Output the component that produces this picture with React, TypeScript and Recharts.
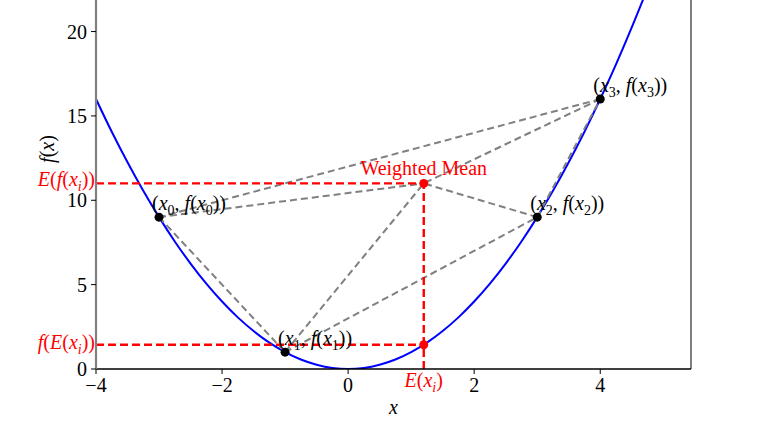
import React from 'react';
import { ComposedChart, Line, Scatter, XAxis, YAxis, ReferenceLine } from 'recharts';

// f(x) = x^2 sampled values
const curveX = [-4, -3.75, -3.5, -3.25, -3, -2.75, -2.5, -2.25, -2, -1.75, -1.5, -1.25, -1, -0.75, -0.5, -0.25, 0,
  0.25, 0.5, 0.75, 1, 1.25, 1.5, 1.75, 2, 2.25, 2.5, 2.75, 3, 3.25, 3.5, 3.75, 4, 4.25, 4.5, 4.75, 5];
const curveY = [16, 14.06, 12.25, 10.56, 9, 7.56, 6.25, 5.06, 4, 3.06, 2.25, 1.56, 1, 0.56, 0.25, 0.06, 0,
  0.06, 0.25, 0.56, 1, 1.56, 2.25, 3.06, 4, 5.06, 6.25, 7.56, 9, 10.56, 12.25, 14.06, 16, 18.06, 20.25, 22.56, 25];

const pointX = [-3, -1, 3, 4];
const pointY = [9, 1, 9, 16];
const meanX = 1.2;
const meanY = 11;
const fOfMean = 1.44;

const xTicks = [-4, -2, 0, 2, 4];
const yTicks = [0, 5, 10, 15, 20];
const xDomain = [-4, 5.44];
const yDomain = [0, 21.87];

const serif = "'Liberation Serif', 'DejaVu Serif', 'Times New Roman', serif";
const FS = 20;
const RED = '#ff0000';

const curveData = curveX.map((x, i) => ({ x, y: curveY[i] }));
const pointData = pointX.map((x, i) => ({ x, y: pointY[i], idx: i }));

// hull edges + weighted mean to each point
const edges = [[0, 1], [1, 2], [2, 3], [3, 0]];
const segments = [
  ...edges.map(([a, b]) => [{ x: pointX[a], y: pointY[a] }, { x: pointX[b], y: pointY[b] }]),
  ...pointX.map((x, i) => [{ x, y: pointY[i] }, { x: meanX, y: meanY }]),
];

const redLines = [
  [{ x: xDomain[0], y: meanY }, { x: meanX, y: meanY }],
  [{ x: xDomain[0], y: fOfMean }, { x: meanX, y: fOfMean }],
  [{ x: meanX, y: 0 }, { x: meanX, y: meanY }],
];
const meanPoints = [{ x: meanX, y: meanY, kind: 'mean' }, { x: meanX, y: fOfMean, kind: 'jensen' }];

const PointShape = (props: any) => {
  const { cx, cy, payload } = props;
  const i = String(payload.idx);
  return (
    <g>
      <circle cx={cx} cy={cy} r={4.5} fill="#000" />
      <text x={cx - 7} y={cy - 7} fontFamily={serif} fontSize={FS} fill="#000" style={{ whiteSpace: 'pre' }}>
        <tspan>(</tspan>
        <tspan fontStyle="italic">x</tspan>
        <tspan dy={5} fontSize={14}>{i}</tspan>
        <tspan dy={-5}>, </tspan>
        <tspan fontStyle="italic">f</tspan>
        <tspan>(</tspan>
        <tspan fontStyle="italic">x</tspan>
        <tspan dy={5} fontSize={14}>{i}</tspan>
        <tspan dy={-5}>))</tspan>
      </text>
    </g>
  );
};

const MeanShape = (props: any) => {
  const { cx, cy, payload } = props;
  return (
    <g>
      <circle cx={cx} cy={cy} r={4.5} fill={RED} />
      {payload.kind === 'mean' && (
        <text x={cx} y={cy - 8} textAnchor="middle" fontFamily={serif} fontSize={FS} fill={RED}>
          Weighted Mean
        </text>
      )}
    </g>
  );
};

const fmtX = (v: number) => (v < 0 ? '\u2212' + Math.abs(v) : String(v));

const YTick = (props: any) => {
  const { x, y, payload } = props;
  const v = payload.value;
  const common = { fontFamily: serif, fontSize: FS, fill: RED };
  if (v === meanY) {
    return (
      <text x={x + 8} y={y + 3} textAnchor="end" {...common}>
        <tspan fontStyle="italic">E</tspan>
        <tspan>(</tspan>
        <tspan fontStyle="italic">f</tspan>
        <tspan>(</tspan>
        <tspan fontStyle="italic">x</tspan>
        <tspan dy={5} fontSize={14} fontStyle="italic">i</tspan>
        <tspan dy={-5}>))</tspan>
      </text>
    );
  }
  if (v === fOfMean) {
    return (
      <text x={x + 8} y={y + 4} textAnchor="end" {...common}>
        <tspan fontStyle="italic">f</tspan>
        <tspan>(</tspan>
        <tspan fontStyle="italic">E</tspan>
        <tspan>(</tspan>
        <tspan fontStyle="italic">x</tspan>
        <tspan dy={5} fontSize={14} fontStyle="italic">i</tspan>
        <tspan dy={-5}>))</tspan>
      </text>
    );
  }
  return (
    <g>
      <line x1={x + 4} x2={x + 9} y1={y} y2={y} stroke="#000" strokeWidth={1} />
      <text x={x} y={y} dy="0.355em" textAnchor="end" fontFamily={serif} fontSize={FS} fill="#000">
        {v}
      </text>
    </g>
  );
};

const XTick = (props: any) => {
  const { x, y, payload } = props;
  const v = payload.value;
  if (v === meanX) {
    return (
      <text x={x} y={y + 9} textAnchor="middle" fontFamily={serif} fontSize={FS} fill={RED}>
        <tspan fontStyle="italic">E</tspan>
        <tspan>(</tspan>
        <tspan fontStyle="italic">x</tspan>
        <tspan dy={5} fontSize={14} fontStyle="italic">i</tspan>
        <tspan dy={-5}>)</tspan>
      </text>
    );
  }
  return (
    <g>
      <line x1={x} x2={x} y1={y - 9} y2={y - 4} stroke="#000" strokeWidth={1} />
      <text x={x} y={y} dy="0.71em" textAnchor="middle" fontFamily={serif} fontSize={FS} fill="#000">
        {fmtX(v)}
      </text>
    </g>
  );
};

const XLabel = (props: any) => {
  const vb = props.viewBox || { x: 96, y: 369, width: 595 };
  return (
    <text x={vb.x + vb.width / 2} y={vb.y + 45} textAnchor="middle" fontFamily={serif} fontSize={FS} fontStyle="italic" fill="#000">
      x
    </text>
  );
};

const YLabel = () => (
  <text x={54} y={149} transform="rotate(-90 54 149)" textAnchor="middle" fontFamily={serif} fontSize={FS} fill="#000">
    <tspan fontStyle="italic">f</tspan>
    <tspan>(</tspan>
    <tspan fontStyle="italic">x</tspan>
    <tspan>)</tspan>
  </text>
);

export default function App() {
  return (
    <div style={{ position: 'fixed', left: 0, top: 0, width: 768, height: 432, background: '#fff' }}>
      <ComposedChart width={768} height={432} margin={{ top: 0, right: 77, bottom: 0, left: 0 }}>
        <XAxis
          type="number"
          dataKey="x"
          domain={xDomain}
          ticks={[...xTicks, meanX]}
          allowDataOverflow
          interval={0}
          height={63}
          tick={<XTick />}
          tickSize={5}
          tickMargin={4}
          axisLine={{ stroke: '#000', strokeWidth: 1.3 }}
          tickLine={false}
          label={<XLabel />}
        />
        <YAxis
          type="number"
          dataKey="y"
          domain={yDomain}
          ticks={[...yTicks, meanY, fOfMean]}
          allowDataOverflow
          interval={0}
          width={96}
          tick={<YTick />}
          tickSize={5}
          tickMargin={4}
          axisLine={{ stroke: '#808080', strokeWidth: 2.2 }}
          tickLine={false}
          label={<YLabel />}
        />
        <ReferenceLine x={xDomain[1]} stroke="#555" strokeWidth={1.5} ifOverflow="extendDomain" />
        <Line
          data={curveData}
          dataKey="y"
          type="monotone"
          stroke="#0000ff"
          strokeWidth={2}
          dot={false}
          isAnimationActive={false}
        />
        {segments.map((seg, i) => (
          <Line
            key={'g' + i}
            data={seg}
            dataKey="y"
            type="linear"
            stroke="#808080"
            strokeWidth={2}
            strokeDasharray="7 4"
            dot={false}
            isAnimationActive={false}
          />
        ))}
        {redLines.map((seg, i) => (
          <Line
            key={'r' + i}
            data={seg}
            dataKey="y"
            type="linear"
            stroke={RED}
            strokeWidth={2.4}
            strokeDasharray="8 4"
            dot={false}
            isAnimationActive={false}
          />
        ))}
        <Scatter data={pointData} dataKey="y" shape={<PointShape />} isAnimationActive={false} />
        <Scatter data={meanPoints} dataKey="y" shape={<MeanShape />} isAnimationActive={false} />
      </ComposedChart>
    </div>
  );
}
